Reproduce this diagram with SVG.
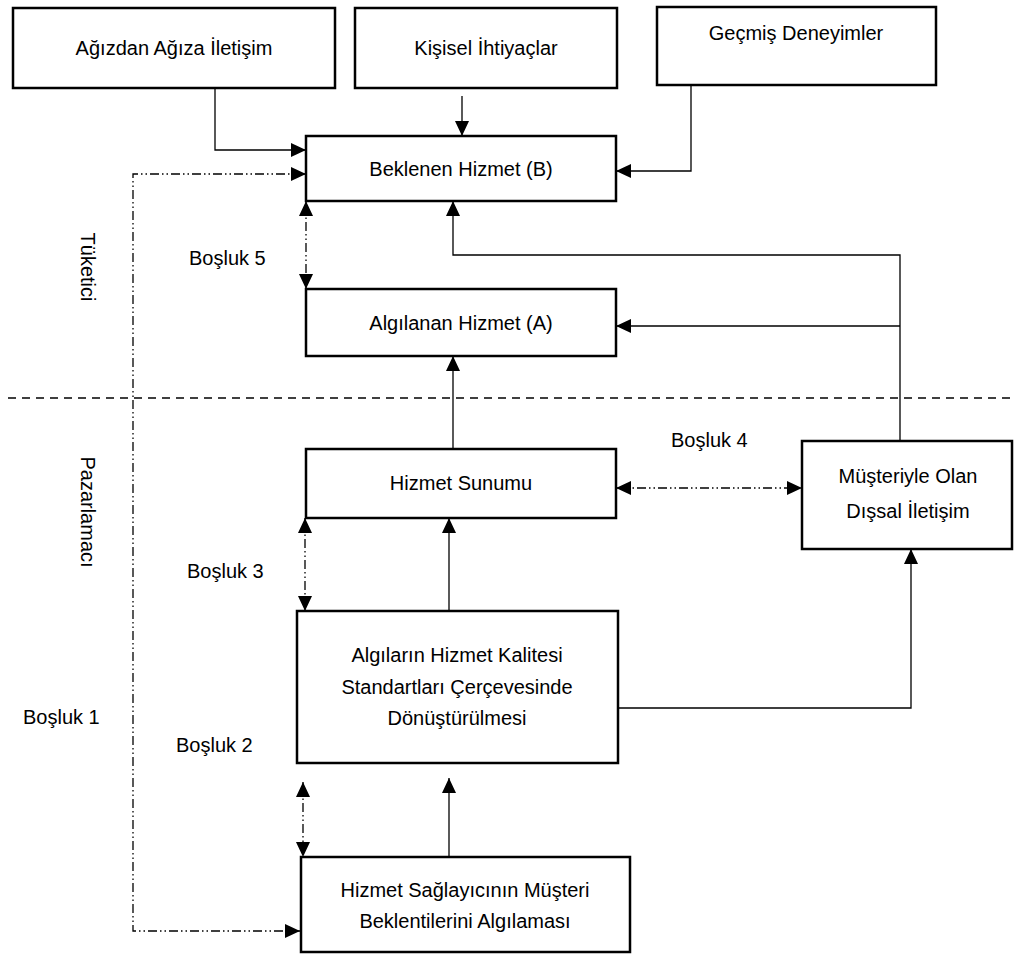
<svg xmlns="http://www.w3.org/2000/svg" width="1014" height="954" viewBox="0 0 1014 954">
<style>
.box{fill:#fff;stroke:#000;stroke-width:2.5}
text{font-family:"Liberation Sans",Arial,sans-serif;font-size:20px;fill:#000}
.c{text-anchor:middle}
.ln{fill:none;stroke:#000;stroke-width:1.3}
.dd{fill:none;stroke:#000;stroke-width:1.3;stroke-dasharray:9,3,1.5,3,1.5,3}
.dash{fill:none;stroke:#000;stroke-width:1.5;stroke-dasharray:8,6}
</style>
<defs>
<marker id="ae" markerUnits="userSpaceOnUse" markerWidth="16" markerHeight="14" refX="15" refY="7" orient="auto">
<path d="M0,0 L15,7 L0,14 Z" fill="#000"/>
</marker>
<marker id="as" markerUnits="userSpaceOnUse" markerWidth="16" markerHeight="14" refX="0" refY="7" orient="auto">
<path d="M15,0 L0,7 L15,14 Z" fill="#000"/>
</marker>
</defs>
<rect width="1014" height="954" fill="#fff"/>
<g id="connectors">
<path class="dash" d="M8,398 H1014"/>
<path class="ln" d="M215,88 V150 H306" marker-end="url(#ae)"/>
<path class="ln" d="M462,96 V136" marker-end="url(#ae)"/>
<path class="ln" d="M691,85 V171 H616" marker-end="url(#ae)"/>
<path class="ln" d="M900,441 V255 H453 V201" marker-end="url(#ae)"/>
<path class="ln" d="M900,326 H616" marker-end="url(#ae)"/>
<path class="ln" d="M453,449 V356" marker-end="url(#ae)"/>
<path class="ln" d="M449,611 V518" marker-end="url(#ae)"/>
<path class="ln" d="M449,857 V778" marker-end="url(#ae)"/>
<path class="ln" d="M618,708 H911 V549" marker-end="url(#ae)"/>
<path class="dd" d="M306,201 V289" marker-start="url(#as)" marker-end="url(#ae)"/>
<path class="dd" d="M616,488 H802" marker-start="url(#as)" marker-end="url(#ae)"/>
<path class="dd" d="M305,518 V611" marker-start="url(#as)" marker-end="url(#ae)"/>
<path class="dd" d="M303,782 V857" marker-start="url(#as)" marker-end="url(#ae)"/>
<path class="dd" d="M306,174 H133 V931 H300" marker-start="url(#as)" marker-end="url(#ae)"/>
</g>
<g id="n-agizdan"><rect class="box" x="13" y="8" width="322" height="80"/><text class="c" x="174" y="55">Ağızdan Ağıza İletişim</text></g>
<g id="n-kisisel"><rect class="box" x="355" y="8" width="262" height="80"/><text class="c" x="486" y="55">Kişisel İhtiyaçlar</text></g>
<g id="n-gecmis"><rect class="box" x="657" y="7" width="279" height="78"/><text class="c" x="796" y="40">Geçmiş Deneyimler</text></g>
<g id="n-beklenen"><rect class="box" x="306" y="136" width="310" height="65"/><text class="c" x="461" y="176">Beklenen Hizmet (B)</text></g>
<g id="n-algilanan"><rect class="box" x="306" y="289" width="310" height="67"/><text class="c" x="461" y="330">Algılanan Hizmet (A)</text></g>
<g id="n-sunum"><rect class="box" x="306" y="449" width="310" height="69"/><text class="c" x="461" y="490">Hizmet Sunumu</text></g>
<g id="n-musteri"><rect class="box" x="802" y="441" width="210" height="108"/><text class="c" x="908" y="483">Müşteriyle Olan</text><text class="c" x="908" y="518">Dışsal İletişim</text></g>
<g id="n-algilar"><rect class="box" x="297" y="611" width="321" height="152"/><text class="c" x="457" y="662">Algıların Hizmet Kalitesi</text><text class="c" x="457" y="694">Standartları Çerçevesinde</text><text class="c" x="457" y="725">Dönüştürülmesi</text></g>
<g id="n-saglayici"><rect class="box" x="301" y="857" width="329" height="95"/><text class="c" x="465" y="897">Hizmet Sağlayıcının Müşteri</text><text class="c" x="465" y="928">Beklentilerini Algılaması</text></g>
<g id="labels">
<text x="189" y="265">Boşluk 5</text>
<text x="671" y="447">Boşluk 4</text>
<text x="187" y="578">Boşluk 3</text>
<text x="176" y="752">Boşluk 2</text>
<text x="23" y="724">Boşluk 1</text>
<text class="c" transform="translate(81,267) rotate(90)">Tüketici</text>
<text class="c" transform="translate(81,512) rotate(90)">Pazarlamacı</text>
</g>
</svg>
